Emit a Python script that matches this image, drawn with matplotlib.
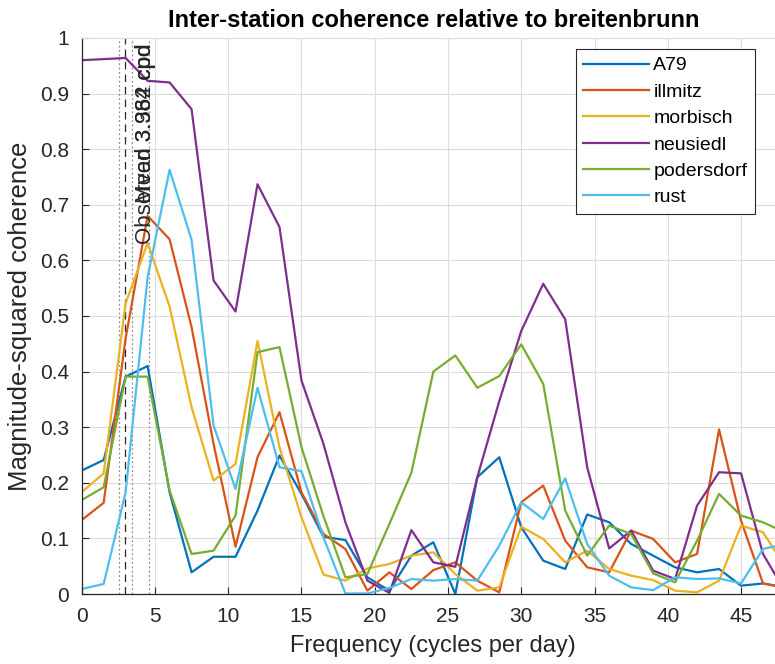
import numpy as np
import matplotlib
matplotlib.use("Agg")
import matplotlib.pyplot as plt

# frequency axis (cycles per day), 1.5 cpd spacing
freq = np.arange(33) * 1.5

stations = ["A79", "illmitz", "morbisch", "neusiedl", "podersdorf", "rust"]

a79 = [0.222, 0.241, 0.391, 0.410, 0.183, 0.039, 0.067, 0.067, 0.150, 0.249,
       0.180, 0.103, 0.097, 0.030, 0.006, 0.069, 0.093, 0.000, 0.210, 0.246,
       0.120, 0.060, 0.045, 0.143, 0.129, 0.090, 0.069, 0.048, 0.039, 0.045,
       0.015, 0.019, 0.012]
illmitz = [0.133, 0.164, 0.460, 0.680, 0.638, 0.480, 0.270, 0.085, 0.246, 0.327,
           0.183, 0.108, 0.081, 0.006, 0.039, 0.009, 0.043, 0.057, 0.024, 0.003,
           0.165, 0.195, 0.096, 0.048, 0.039, 0.114, 0.099, 0.057, 0.072, 0.296,
           0.132, 0.019, 0.011]
morbisch = [0.183, 0.217, 0.523, 0.631, 0.517, 0.336, 0.204, 0.234, 0.455, 0.264,
            0.138, 0.035, 0.024, 0.046, 0.054, 0.069, 0.075, 0.036, 0.006, 0.012,
            0.121, 0.099, 0.057, 0.078, 0.045, 0.033, 0.025, 0.006, 0.003, 0.024,
            0.123, 0.111, 0.050]
neusiedl = [0.960, 0.962, 0.964, 0.923, 0.920, 0.872, 0.564, 0.508, 0.737, 0.660,
            0.384, 0.270, 0.129, 0.024, 0.002, 0.115, 0.057, 0.049, 0.210, 0.347,
            0.473, 0.558, 0.494, 0.228, 0.082, 0.114, 0.042, 0.027, 0.159, 0.219,
            0.217, 0.072, 0.005]
podersdorf = [0.169, 0.192, 0.391, 0.391, 0.186, 0.072, 0.078, 0.141, 0.435, 0.444,
              0.264, 0.140, 0.030, 0.036, 0.126, 0.218, 0.400, 0.429, 0.371, 0.392,
              0.449, 0.378, 0.150, 0.069, 0.123, 0.108, 0.037, 0.021, 0.096, 0.180,
              0.141, 0.129, 0.111]
rust = [0.009, 0.018, 0.183, 0.570, 0.763, 0.637, 0.303, 0.189, 0.371, 0.228,
        0.221, 0.102, 0.001, 0.001, 0.011, 0.027, 0.024, 0.027, 0.024, 0.087,
        0.165, 0.135, 0.208, 0.090, 0.033, 0.012, 0.007, 0.030, 0.027, 0.028,
        0.019, 0.081, 0.090]

series = [a79, illmitz, morbisch, neusiedl, podersdorf, rust]

# reference lines (cpd)
band_lines = [2.53, 3.42, 4.57]
observed_line = 2.97
labels_txt = ["Observed 3.984 cpd", "Mean 3.362 cpd"]

colors = ["#0072BD", "#D95319", "#EDB120", "#7E2F8E", "#77AC30", "#4DBEEE"]

plt.rcParams['font.family'] = ['Liberation Sans', 'DejaVu Sans']
axc = "#262626"

fig = plt.figure(figsize=(7.75, 6.64), dpi=100)
ax = fig.add_axes([0.1054, 0.1054, 0.9075, 0.8374])

for v in band_lines:
    ax.axvline(v, color="#8c8c8c", ls=(0, (1.5, 2)), lw=0.9)
ax.axvline(observed_line, color=axc, ls=(0, (6, 4)), lw=0.9)

for name, vals, c in zip(stations, series, colors):
    ax.plot(freq, vals, color=c, lw=1.6, label=name)

# both labels sit on the same spot, as in the source figure
for t in labels_txt:
    ax.text(3.62, 0.99, t, rotation=90, ha="left", va="top", fontsize=16, color=axc)

ax.set_xlim(0, 48)
ax.set_ylim(0, 1)
ax.set_xticks(np.arange(0, 50, 5))
ax.set_yticks(np.arange(0, 1.01, 0.1))
ax.set_yticklabels(["0", "0.1", "0.2", "0.3", "0.4", "0.5", "0.6", "0.7", "0.8", "0.9", "1"])
ax.grid(True, color="#dcdcdc", lw=0.8)
ax.set_axisbelow(True)
ax.tick_params(direction="in", length=5, colors=axc, labelsize=15, pad=9)
for s in ["top", "right"]:
    ax.spines[s].set_color("#dcdcdc")
    ax.spines[s].set_linewidth(0.8)
for s in ["left", "bottom"]:
    ax.spines[s].set_color(axc)
    ax.spines[s].set_linewidth(0.9)

ax.set_xlabel("Frequency (cycles per day)", fontsize=17, color=axc, labelpad=7)
ax.set_ylabel("Magnitude-squared coherence", fontsize=18.5, color=axc, labelpad=6)
ax.set_title("Inter-station coherence relative to breitenbrunn", fontsize=17,
             fontweight="bold", color="black", pad=8)

leg = ax.legend(loc="upper right", bbox_to_anchor=(0.9575, 0.98), borderaxespad=0,
                fontsize=14, handlelength=3.4, labelspacing=0.45, borderpad=0.4,
                handletextpad=0.2, fancybox=False, framealpha=1, edgecolor=axc)
leg.get_frame().set_linewidth(0.8)

fig.savefig("out.png", dpi=100)
